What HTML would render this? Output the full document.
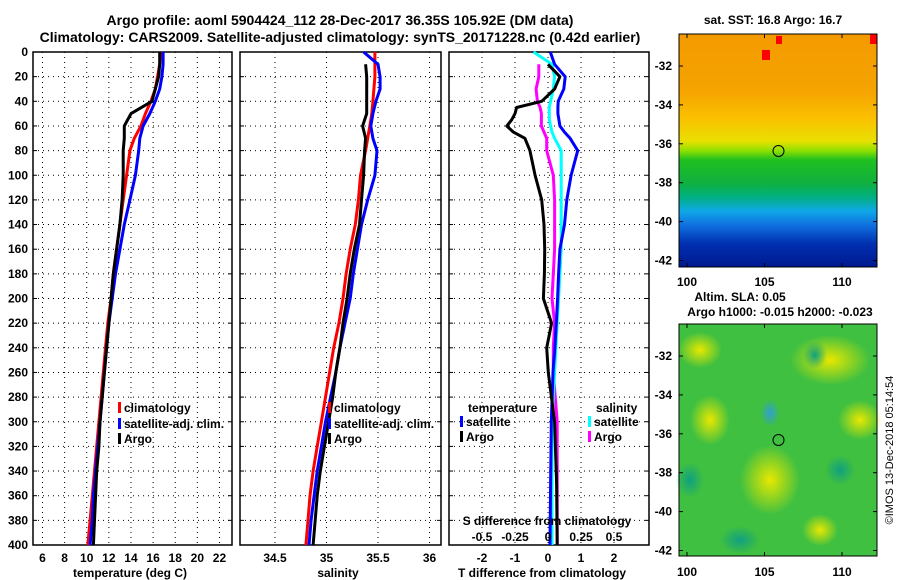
<!DOCTYPE html>
<html><head><meta charset="utf-8"><style>
html,body{margin:0;padding:0;background:#fff}
svg{display:block;font-family:"Liberation Sans",sans-serif;font-weight:bold}
</style></head><body>
<svg id="c" width="900" height="580" viewBox="0 0 900 580">
<defs>
<linearGradient id="sst" x1="0" y1="0" x2="0" y2="1">
<stop offset="0" stop-color="#f39a00"/><stop offset="0.25" stop-color="#f5a400"/>
<stop offset="0.36" stop-color="#fbc000"/><stop offset="0.46" stop-color="#e8e000"/>
<stop offset="0.5" stop-color="#90e000"/><stop offset="0.54" stop-color="#20c020"/>
<stop offset="0.64" stop-color="#10b040"/><stop offset="0.7" stop-color="#00b080"/>
<stop offset="0.76" stop-color="#10a8e8"/><stop offset="0.82" stop-color="#1070e0"/>
<stop offset="0.9" stop-color="#0030b0"/><stop offset="1" stop-color="#001890"/>
</linearGradient>
<radialGradient id="yb"><stop offset="0" stop-color="#e8e800"/><stop offset="1" stop-color="#e8e800" stop-opacity="0"/></radialGradient>
<radialGradient id="bb"><stop offset="0" stop-color="#30a0d0"/><stop offset="1" stop-color="#30a0d0" stop-opacity="0"/></radialGradient>
<radialGradient id="tb"><stop offset="0" stop-color="#10a080"/><stop offset="1" stop-color="#10a080" stop-opacity="0"/></radialGradient>
</defs>
<text x="340" y="25" text-anchor="middle" font-size="14">Argo profile: aoml 5904424_112 28-Dec-2017 36.35S 105.92E (DM data)</text>
<text x="340" y="42" text-anchor="middle" font-size="14">Climatology: CARS2009. Satellite-adjusted climatology: synTS_20171228.nc (0.42d earlier)</text>
<g id="p1"></g>
<g id="p2"></g>
<g id="p3"></g>
<g id="m1">
<text x="773" y="24" text-anchor="middle" font-size="12">sat. SST: 16.8 Argo: 16.7</text>
<rect x="679" y="34" width="198" height="233" fill="url(#sst)"/>
<rect x="762" y="50" width="8" height="10" fill="#f00"/>
<rect x="776" y="36" width="6" height="8" fill="#f00"/>
<rect x="870" y="34" width="7" height="10" fill="#f00"/>
<rect x="679" y="34" width="198" height="233" fill="none" stroke="#000"/>
<circle cx="778.5" cy="151" r="5.5" fill="none" stroke="#000"/>
</g>
<g id="m2">
<text x="740" y="301" text-anchor="middle" font-size="12">Altim. SLA: 0.05</text>
<text x="780" y="316" text-anchor="middle" font-size="12">Argo h1000: -0.015 h2000: -0.023</text>
<rect x="679" y="324" width="198" height="232" fill="#40c040"/>
<g>
<ellipse cx="700" cy="350" rx="22" ry="18" fill="url(#yb)"/>
<ellipse cx="830" cy="360" rx="40" ry="25" fill="url(#yb)"/>
<ellipse cx="770" cy="480" rx="30" ry="35" fill="url(#yb)"/>
<ellipse cx="860" cy="420" rx="22" ry="20" fill="url(#yb)"/>
<ellipse cx="710" cy="420" rx="20" ry="25" fill="url(#yb)"/>
<ellipse cx="770" cy="413" rx="10" ry="14" fill="url(#bb)"/>
<ellipse cx="815" cy="355" rx="12" ry="14" fill="url(#tb)"/>
<ellipse cx="690" cy="480" rx="14" ry="18" fill="url(#tb)"/>
<ellipse cx="840" cy="470" rx="15" ry="15" fill="url(#tb)"/>
<ellipse cx="740" cy="540" rx="20" ry="14" fill="url(#tb)"/>
<ellipse cx="820" cy="530" rx="18" ry="16" fill="url(#yb)"/>
</g>
<rect x="679" y="324" width="198" height="232" fill="none" stroke="#000"/>
<circle cx="778.5" cy="440" r="5.5" fill="none" stroke="#000"/>
</g>
<text transform="translate(893,450) rotate(-90)" text-anchor="middle" font-size="11" font-weight="normal">©IMOS 13-Dec-2018 05:14:54</text>
</svg>
<script>
// ---- data ----
const depths = [0,10,20,30,40,50,60,70,80,100,120,140,160,180,200,220,240,260,280,300,320,340,360,380,400];
const tempClim = [16.7,16.6,16.4,16.2,15.8,15.3,14.9,14.3,13.9,13.6,13.3,13.0,12.7,12.4,12.2,11.9,11.7,11.5,11.3,11.1,10.9,10.7,10.5,10.3,10.1];
const tempSat  = [16.9,16.9,16.8,16.6,16.2,15.7,15.1,14.8,14.7,14.4,13.9,13.4,13.0,12.6,12.3,12.0,11.8,11.6,11.4,11.2,11.0,10.8,10.6,10.5,10.3];
const tempArgo = [16.6,16.6,16.5,16.2,15.9,14.0,13.4,13.4,13.3,13.3,13.2,13.0,12.7,12.4,12.2,12.0,11.8,11.6,11.4,11.2,11.1,10.9,10.8,10.7,10.6];
const salClim = [35.47,35.47,35.47,35.46,35.45,35.44,35.42,35.40,35.38,35.33,35.31,35.28,35.23,35.19,35.16,35.12,35.07,35.03,34.99,34.95,34.91,34.87,34.84,34.82,34.80];
const salSat  = [35.36,35.50,35.52,35.52,35.48,35.45,35.43,35.45,35.49,35.47,35.40,35.34,35.30,35.26,35.23,35.18,35.13,35.09,35.04,34.99,34.95,34.91,34.88,34.85,34.83];
const salArgo = [null,35.38,35.39,35.39,35.39,35.39,35.35,35.38,35.37,35.36,35.34,35.32,35.27,35.23,35.20,35.16,35.13,35.09,35.06,35.02,34.98,34.94,34.91,34.89,34.87];
const diffDepths = [0,10,20,30,40,45,50,55,60,65,70,80,100,120,140,160,180,200,220,240,260,300,350,400];
const dTSat  = [0.07,0.2,0.52,0.48,0.31,0.3,0.3,0.33,0.36,0.5,0.67,0.9,0.7,0.57,0.5,0.36,0.32,0.29,0.25,0.21,0.15,0.1,0.08,0.06];
const dTArgo = [null,0.0,0.36,0.2,-0.19,-0.95,-1.0,-1.1,-1.25,-1.05,-0.7,-0.55,-0.39,-0.19,-0.12,-0.1,-0.11,-0.14,0.11,-0.04,0.01,0.2,0.26,0.28];
const dSSat  = [-0.11,0.03,0.05,0.04,0.02,0.01,0.01,0.01,0.02,0.03,0.05,0.1,0.1,0.1,0.1,0.1,0.09,0.08,0.07,0.06,0.05,0.03,0.03,0.03];
const dSArgo = [null,-0.07,-0.07,-0.09,-0.08,-0.06,-0.05,-0.05,-0.05,-0.03,-0.01,-0.01,0.04,0.05,0.05,0.05,0.04,0.03,0.05,0.04,0.04,0.07,0.07,0.07];
const yTicks = [0,20,40,60,80,100,120,140,160,180,200,220,240,260,280,300,320,340,360,380,400];
const tTicks = [6,8,10,12,14,16,18,20,22];
const sTicks = [34.5,35,35.5,36];
const dTTicks = [-2,-1,0,1,2];
const dSTicks = [-0.5,-0.25,0,0.25,0.5];
const dSLabels = ['-0.5','-0.25','0','0.25','0.5'];
const latTicks = [-32,-34,-36,-38,-40,-42];
const lonTicks = [100,105,110];
// ---- helpers ----
const NS='http://www.w3.org/2000/svg';
function mk(parent,tag,attrs,txt){const e=document.createElementNS(NS,tag);for(const k in attrs)e.setAttribute(k,attrs[k]);if(txt!==undefined)e.textContent=txt;parent.appendChild(e);return e;}
const Y0=52,Y1=545;
const yS=d=>Y0+(d/400)*(Y1-Y0);
function panel(g,x0,x1,xs,ticks,fmt,name,lblY){
  const f=mk(g,'rect',{x:x0,y:Y0,width:x1-x0,height:Y1-Y0,fill:'none',stroke:'#000','stroke-width':1.5});
  
  
  yTicks.forEach(d=>{const y=yS(d);
    if(d>0&&d<400){const l=mk(g,'line',{x1:x0,x2:x1,y1:y,y2:y,stroke:'#000','stroke-dasharray':'1,4'});
      
      }
    mk(g,'line',{x1:x0,x2:x0+4,y1:y,y2:y,stroke:'#000'});mk(g,'line',{x1:x1-4,x2:x1,y1:y,y2:y,stroke:'#000'});
  });
  ticks.forEach(v=>{const x=xs(v);
    const l=mk(g,'line',{x1:x,x2:x,y1:Y0,y2:Y1,stroke:'#000','stroke-dasharray':'1,4'});
    
    
    if(lblY){const t=mk(g,'text',{x:x,y:lblY,'text-anchor':'middle','font-size':12},fmt(v));
      
      }
  });
}
function series(g,ds,vals,xs,color,name){
  let p='';ds.forEach((d,i)=>{if(vals[i]===null||vals[i]===undefined)return;p+=(p?'L':'M')+xs(vals[i]).toFixed(1)+','+yS(d).toFixed(1);});
  const e=mk(g,'path',{d:p,fill:'none',stroke:color,'stroke-width':3,'stroke-linejoin':'round'});
  
  
}
function legend(g,x,y,color,label,name){
  const r=mk(g,'rect',{x:x,y:y-10,width:3,height:11,fill:color});
  
  
  const t=mk(g,'text',{x:x+6,y:y,'font-size':12},label);
  
  
}
// ---- panel 1 ----
const p1=document.getElementById('p1');
const xT=v=>42.5+(v-6)*11.06;
panel(p1,33,232,xT,tTicks,v=>String(v),'temperature',562);
yTicks.forEach(d=>{const t=mk(p1,'text',{x:28,y:yS(d)+4,'text-anchor':'end','font-size':12},String(d));
  
  });
series(p1,depths,tempClim,xT,'#f00','temp-climatology-line');
series(p1,depths,tempSat,xT,'#00f','temp-satellite-line');
series(p1,depths,tempArgo,xT,'#000','temp-argo-line');
legend(p1,118,412,'#f00','climatology','legend-climatology');
legend(p1,118,428,'#00f','satellite-adj. clim.','legend-satellite-adj');
legend(p1,118,443,'#000','Argo','legend-argo');
mk(p1,'text',{x:130,y:577,'text-anchor':'middle','font-size':12},'temperature (deg C)');
// ---- panel 2 ----
const p2=document.getElementById('p2');
const xS=v=>275+(v-34.5)*103;
panel(p2,240,441,xS,sTicks,v=>String(v),'salinity',562);
series(p2,depths,salClim,xS,'#f00','sal-climatology-line');
series(p2,depths,salSat,xS,'#00f','sal-satellite-line');
series(p2,depths,salArgo,xS,'#000','sal-argo-line');
legend(p2,328,412,'#f00','climatology','legend-climatology-2');
legend(p2,328,428,'#00f','satellite-adj. clim.','legend-satellite-adj-2');
legend(p2,328,443,'#000','Argo','legend-argo-2');
mk(p2,'text',{x:338,y:577,'text-anchor':'middle','font-size':12},'salinity');
// ---- panel 3 ----
const p3=document.getElementById('p3');
const xDT=v=>548+v*33;
const xDS=v=>548+v*132;
panel(p3,449,649,xDT,dTTicks,v=>String(v),'t-diff',562);
series(p3,diffDepths,dSArgo,xDS,'#f0f','sal-diff-argo-line');
series(p3,diffDepths,dSSat,xDS,'#0ff','sal-diff-satellite-line');
series(p3,diffDepths,dTSat,xDT,'#00f','temp-diff-satellite-line');
series(p3,diffDepths,dTArgo,xDT,'#000','temp-diff-argo-line');
const lt=mk(p3,'text',{x:468,y:412,'font-size':12},'temperature');


legend(p3,460,426,'#00f','satellite','legend-temp-satellite');
legend(p3,460,441,'#000','Argo','legend-temp-argo');
const ls=mk(p3,'text',{x:596,y:412,'font-size':12},'salinity');


legend(p3,588,426,'#0ff','satellite','legend-sal-satellite');
legend(p3,588,441,'#f0f','Argo','legend-sal-argo');
mk(p3,'text',{x:547,y:525,'text-anchor':'middle','font-size':12},'S difference from climatology');
dSTicks.forEach((v,i)=>{const t=mk(p3,'text',{x:xDS(v),y:541,'text-anchor':'middle','font-size':12},dSLabels[i]);
  
  });
mk(p3,'text',{x:542,y:577,'text-anchor':'middle','font-size':12},'T difference from climatology');
// ---- maps ----
function mapAxes(g,yTop,yBot,lat32,lonY){
  const ly=v=>lat32+(-32-v)*19.45;
  const lx=v=>687+(v-100)*15.5;
  latTicks.forEach(v=>{const y=ly(v);
    const t=mk(g,'text',{x:672,y:y+4,'text-anchor':'end','font-size':12},String(v));
    
    
    mk(g,'line',{x1:679,x2:683,y1:y,y2:y,stroke:'#000'});mk(g,'line',{x1:873,x2:877,y1:y,y2:y,stroke:'#000'});});
  lonTicks.forEach(v=>{const x=lx(v);
    const t=mk(g,'text',{x:x,y:lonY,'text-anchor':'middle','font-size':12},String(v));
    
    
    mk(g,'line',{x1:x,x2:x,y1:yTop,y2:yTop+4,stroke:'#000'});mk(g,'line',{x1:x,x2:x,y1:yBot-4,y2:yBot,stroke:'#000'});});
}
mapAxes(document.getElementById('m1'),34,267,66,286);
mapAxes(document.getElementById('m2'),324,556,356,576);
</script>
</body></html>
